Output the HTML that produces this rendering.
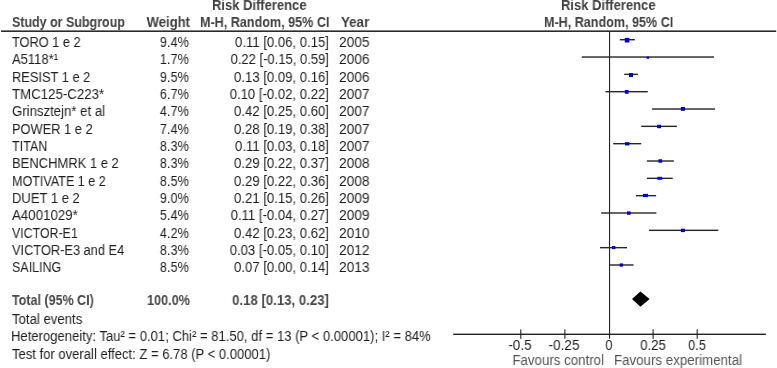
<!DOCTYPE html><html><head><meta charset="utf-8"><style>
html,body{margin:0;padding:0;background:#fff;}
body{width:777px;height:368px;position:relative;overflow:hidden;font-family:"Liberation Sans",sans-serif;}
.t{position:absolute;white-space:nowrap;line-height:20px;height:20px;will-change:transform;}
.r{font-size:14px;color:#1e1e1e;}
.b{font-size:14px;color:#404040;font-weight:bold;}
.f{font-size:14px;color:#555555;}
#tot,#t100,#tci{color:#484848;}
svg{position:absolute;left:0;top:0;}
</style></head><body>
<div id="rd1" class="t b" style="left:212.45px;top:-5.05px;width:400px;text-align:left;transform:scaleX(0.9273);transform-origin:0 0">Risk Difference</div>
<div id="rd2" class="t b" style="left:561.45px;top:-5.05px;width:400px;text-align:left;transform:scaleX(0.9273);transform-origin:0 0">Risk Difference</div>
<div id="ss" class="t b" style="left:12.26px;top:12.15px;width:400px;text-align:left;transform:scaleX(0.8904);transform-origin:0 0">Study or Subgroup</div>
<div id="wt" class="t b" style="left:-210.49px;top:12.15px;width:400px;text-align:right;transform:scaleX(0.9331);transform-origin:100% 0">Weight</div>
<div id="mh1" class="t b" style="left:199.60px;top:12.15px;width:400px;text-align:left;transform:scaleX(0.8993);transform-origin:0 0">M-H, Random, 95% CI</div>
<div id="yr" class="t b" style="left:340.70px;top:12.15px;width:400px;text-align:left;transform:scaleX(0.9540);transform-origin:0 0">Year</div>
<div id="mh2" class="t b" style="left:544.27px;top:12.15px;width:400px;text-align:left;transform:scaleX(0.8981);transform-origin:0 0">M-H, Random, 95% CI</div>
<div id="n0" class="t r" style="left:11.60px;top:31.95px;width:400px;text-align:left;transform:scaleX(0.9121);transform-origin:0 0">TORO 1 e 2</div>
<div id="w0" class="t r" style="left:-210.91px;top:31.95px;width:400px;text-align:right;transform:scaleX(0.9120);transform-origin:100% 0">9.4%</div>
<div id="c0" class="t r" style="left:-71.26px;top:31.95px;width:400px;text-align:right;transform:scaleX(0.9381);transform-origin:100% 0">0.11 [0.06, 0.15]</div>
<div id="y0" class="t r" style="left:339.39px;top:31.95px;width:400px;text-align:left;transform:scaleX(0.9829);transform-origin:0 0">2005</div>
<div id="n1" class="t r" style="left:11.60px;top:49.28px;width:400px;text-align:left;transform:scaleX(0.9274);transform-origin:0 0">A5118*¹</div>
<div id="w1" class="t r" style="left:-210.91px;top:49.28px;width:400px;text-align:right;transform:scaleX(0.9120);transform-origin:100% 0">1.7%</div>
<div id="c1" class="t r" style="left:-71.41px;top:49.28px;width:400px;text-align:right;transform:scaleX(0.9303);transform-origin:100% 0">0.22 [-0.15, 0.59]</div>
<div id="y1" class="t r" style="left:339.39px;top:49.28px;width:400px;text-align:left;transform:scaleX(0.9829);transform-origin:0 0">2006</div>
<div id="n2" class="t r" style="left:11.60px;top:66.61px;width:400px;text-align:left;transform:scaleX(0.9177);transform-origin:0 0">RESIST 1 e 2</div>
<div id="w2" class="t r" style="left:-210.91px;top:66.61px;width:400px;text-align:right;transform:scaleX(0.9120);transform-origin:100% 0">9.5%</div>
<div id="c2" class="t r" style="left:-71.26px;top:66.61px;width:400px;text-align:right;transform:scaleX(0.9381);transform-origin:100% 0">0.13 [0.09, 0.16]</div>
<div id="y2" class="t r" style="left:339.39px;top:66.61px;width:400px;text-align:left;transform:scaleX(0.9829);transform-origin:0 0">2006</div>
<div id="n3" class="t r" style="left:11.60px;top:83.94px;width:400px;text-align:left;transform:scaleX(0.9477);transform-origin:0 0">TMC125-C223*</div>
<div id="w3" class="t r" style="left:-210.91px;top:83.94px;width:400px;text-align:right;transform:scaleX(0.9120);transform-origin:100% 0">6.7%</div>
<div id="c3" class="t r" style="left:-71.26px;top:83.94px;width:400px;text-align:right;transform:scaleX(0.9381);transform-origin:100% 0">0.10 [-0.02, 0.22]</div>
<div id="y3" class="t r" style="left:339.39px;top:83.94px;width:400px;text-align:left;transform:scaleX(0.9829);transform-origin:0 0">2007</div>
<div id="n4" class="t r" style="left:11.60px;top:101.27px;width:400px;text-align:left;transform:scaleX(0.9417);transform-origin:0 0">Grinsztejn* et al</div>
<div id="w4" class="t r" style="left:-210.91px;top:101.27px;width:400px;text-align:right;transform:scaleX(0.9120);transform-origin:100% 0">4.7%</div>
<div id="c4" class="t r" style="left:-71.26px;top:101.27px;width:400px;text-align:right;transform:scaleX(0.9381);transform-origin:100% 0">0.42 [0.25, 0.60]</div>
<div id="y4" class="t r" style="left:339.39px;top:101.27px;width:400px;text-align:left;transform:scaleX(0.9829);transform-origin:0 0">2007</div>
<div id="n5" class="t r" style="left:11.60px;top:118.60px;width:400px;text-align:left;transform:scaleX(0.9165);transform-origin:0 0">POWER 1 e 2</div>
<div id="w5" class="t r" style="left:-210.91px;top:118.60px;width:400px;text-align:right;transform:scaleX(0.9120);transform-origin:100% 0">7.4%</div>
<div id="c5" class="t r" style="left:-71.26px;top:118.60px;width:400px;text-align:right;transform:scaleX(0.9381);transform-origin:100% 0">0.28 [0.19, 0.38]</div>
<div id="y5" class="t r" style="left:339.39px;top:118.60px;width:400px;text-align:left;transform:scaleX(0.9829);transform-origin:0 0">2007</div>
<div id="n6" class="t r" style="left:11.60px;top:135.93px;width:400px;text-align:left;transform:scaleX(0.8979);transform-origin:0 0">TITAN</div>
<div id="w6" class="t r" style="left:-210.91px;top:135.93px;width:400px;text-align:right;transform:scaleX(0.9120);transform-origin:100% 0">8.3%</div>
<div id="c6" class="t r" style="left:-71.26px;top:135.93px;width:400px;text-align:right;transform:scaleX(0.9381);transform-origin:100% 0">0.11 [0.03, 0.18]</div>
<div id="y6" class="t r" style="left:339.39px;top:135.93px;width:400px;text-align:left;transform:scaleX(0.9829);transform-origin:0 0">2007</div>
<div id="n7" class="t r" style="left:11.60px;top:153.26px;width:400px;text-align:left;transform:scaleX(0.9270);transform-origin:0 0">BENCHMRK 1 e 2</div>
<div id="w7" class="t r" style="left:-210.91px;top:153.26px;width:400px;text-align:right;transform:scaleX(0.9120);transform-origin:100% 0">8.3%</div>
<div id="c7" class="t r" style="left:-71.26px;top:153.26px;width:400px;text-align:right;transform:scaleX(0.9381);transform-origin:100% 0">0.29 [0.22, 0.37]</div>
<div id="y7" class="t r" style="left:339.39px;top:153.26px;width:400px;text-align:left;transform:scaleX(0.9829);transform-origin:0 0">2008</div>
<div id="n8" class="t r" style="left:11.60px;top:170.59px;width:400px;text-align:left;transform:scaleX(0.8968);transform-origin:0 0">MOTIVATE 1 e 2</div>
<div id="w8" class="t r" style="left:-210.91px;top:170.59px;width:400px;text-align:right;transform:scaleX(0.9120);transform-origin:100% 0">8.5%</div>
<div id="c8" class="t r" style="left:-71.26px;top:170.59px;width:400px;text-align:right;transform:scaleX(0.9381);transform-origin:100% 0">0.29 [0.22, 0.36]</div>
<div id="y8" class="t r" style="left:339.39px;top:170.59px;width:400px;text-align:left;transform:scaleX(0.9829);transform-origin:0 0">2008</div>
<div id="n9" class="t r" style="left:11.60px;top:187.92px;width:400px;text-align:left;transform:scaleX(0.9300);transform-origin:0 0">DUET 1 e 2</div>
<div id="w9" class="t r" style="left:-210.91px;top:187.92px;width:400px;text-align:right;transform:scaleX(0.9120);transform-origin:100% 0">9.0%</div>
<div id="c9" class="t r" style="left:-71.26px;top:187.92px;width:400px;text-align:right;transform:scaleX(0.9381);transform-origin:100% 0">0.21 [0.15, 0.26]</div>
<div id="y9" class="t r" style="left:339.39px;top:187.92px;width:400px;text-align:left;transform:scaleX(0.9829);transform-origin:0 0">2009</div>
<div id="n10" class="t r" style="left:11.60px;top:205.25px;width:400px;text-align:left;transform:scaleX(0.9500);transform-origin:0 0">A4001029*</div>
<div id="w10" class="t r" style="left:-210.91px;top:205.25px;width:400px;text-align:right;transform:scaleX(0.9120);transform-origin:100% 0">5.4%</div>
<div id="c10" class="t r" style="left:-71.26px;top:205.25px;width:400px;text-align:right;transform:scaleX(0.9381);transform-origin:100% 0">0.11 [-0.04, 0.27]</div>
<div id="y10" class="t r" style="left:339.39px;top:205.25px;width:400px;text-align:left;transform:scaleX(0.9829);transform-origin:0 0">2009</div>
<div id="n11" class="t r" style="left:11.60px;top:222.58px;width:400px;text-align:left;transform:scaleX(0.8828);transform-origin:0 0">VICTOR-E1</div>
<div id="w11" class="t r" style="left:-210.91px;top:222.58px;width:400px;text-align:right;transform:scaleX(0.9120);transform-origin:100% 0">4.2%</div>
<div id="c11" class="t r" style="left:-71.26px;top:222.58px;width:400px;text-align:right;transform:scaleX(0.9381);transform-origin:100% 0">0.42 [0.23, 0.62]</div>
<div id="y11" class="t r" style="left:339.39px;top:222.58px;width:400px;text-align:left;transform:scaleX(0.9829);transform-origin:0 0">2010</div>
<div id="n12" class="t r" style="left:11.60px;top:239.91px;width:400px;text-align:left;transform:scaleX(0.9141);transform-origin:0 0">VICTOR-E3 and E4</div>
<div id="w12" class="t r" style="left:-210.91px;top:239.91px;width:400px;text-align:right;transform:scaleX(0.9120);transform-origin:100% 0">8.3%</div>
<div id="c12" class="t r" style="left:-71.26px;top:239.91px;width:400px;text-align:right;transform:scaleX(0.9381);transform-origin:100% 0">0.03 [-0.05, 0.10]</div>
<div id="y12" class="t r" style="left:339.39px;top:239.91px;width:400px;text-align:left;transform:scaleX(0.9829);transform-origin:0 0">2012</div>
<div id="n13" class="t r" style="left:11.60px;top:257.24px;width:400px;text-align:left;transform:scaleX(0.8931);transform-origin:0 0">SAILING</div>
<div id="w13" class="t r" style="left:-210.91px;top:257.24px;width:400px;text-align:right;transform:scaleX(0.9120);transform-origin:100% 0">8.5%</div>
<div id="c13" class="t r" style="left:-71.26px;top:257.24px;width:400px;text-align:right;transform:scaleX(0.9381);transform-origin:100% 0">0.07 [0.00, 0.14]</div>
<div id="y13" class="t r" style="left:339.39px;top:257.24px;width:400px;text-align:left;transform:scaleX(0.9829);transform-origin:0 0">2013</div>
<div id="tot" class="t b" style="left:11.95px;top:289.75px;width:400px;text-align:left;transform:scaleX(0.8940);transform-origin:0 0">Total (95% CI)</div>
<div id="t100" class="t b" style="left:-210.30px;top:289.75px;width:400px;text-align:right;transform:scaleX(0.9051);transform-origin:100% 0">100.0%</div>
<div id="tci" class="t b" style="left:-71.50px;top:289.75px;width:400px;text-align:right;transform:scaleX(0.9435);transform-origin:100% 0">0.18 [0.13, 0.23]</div>
<div id="ev" class="t r" style="left:11.60px;top:309.05px;width:400px;text-align:left;transform:scaleX(0.9404);transform-origin:0 0">Total events</div>
<div id="het" class="t r" style="left:10.72px;top:326.15px;width:400px;text-align:left;transform:scaleX(0.9333);transform-origin:0 0">Heterogeneity: Tau² = 0.01; Chi² = 81.50, df = 13 (P &lt; 0.00001); I² = 84%</div>
<div id="test" class="t r" style="left:11.69px;top:343.75px;width:400px;text-align:left;transform:scaleX(0.9317);transform-origin:0 0">Test for overall effect: Z = 6.78 (P &lt; 0.00001)</div>
<div id="ax0" class="t r" style="left:320.24px;top:334.95px;width:400px;text-align:center;transform:scaleX(0.9642);transform-origin:50% 0">-0.5</div>
<div id="ax1" class="t r" style="left:363.56px;top:334.95px;width:400px;text-align:center;transform:scaleX(0.9705);transform-origin:50% 0">-0.25</div>
<div id="ax2" class="t r" style="left:409.27px;top:334.95px;width:400px;text-align:center;transform:scaleX(0.9017);transform-origin:50% 0">0</div>
<div id="ax3" class="t r" style="left:452.83px;top:334.95px;width:400px;text-align:center;transform:scaleX(0.9504);transform-origin:50% 0">0.25</div>
<div id="ax4" class="t r" style="left:496.71px;top:334.95px;width:400px;text-align:center;transform:scaleX(0.9117);transform-origin:50% 0">0.5</div>
<div id="fc" class="t f" style="left:203.64px;top:349.95px;width:400px;text-align:right;transform:scaleX(0.9492);transform-origin:100% 0">Favours control</div>
<div id="fe" class="t f" style="left:613.74px;top:349.95px;width:400px;text-align:left;transform:scaleX(0.9511);transform-origin:0 0">Favours experimental</div>
<svg width="777" height="368" viewBox="0 0 777 368">
<rect x="1" y="30.40" width="775.2" height="1.60" fill="#2b2b2b"/>
<rect x="609.00" y="32.00" width="1.10" height="306.80" fill="#222222"/>
<rect x="619.80" y="39.00" width="15.00" height="1.40" fill="#262626"/>
<rect x="624.80" y="37.90" width="4.60" height="4.60" fill="#0000d0"/>
<rect x="581.80" y="56.33" width="132.20" height="1.40" fill="#262626"/>
<rect x="646.55" y="56.60" width="2.50" height="2.20" fill="#0000d0"/>
<rect x="624.20" y="73.66" width="13.70" height="1.40" fill="#262626"/>
<rect x="629.00" y="73.00" width="4.00" height="4.00" fill="#0000d0"/>
<rect x="605.50" y="90.99" width="42.30" height="1.40" fill="#262626"/>
<rect x="624.85" y="90.05" width="3.70" height="3.70" fill="#0000d0"/>
<rect x="652.10" y="108.32" width="62.90" height="1.40" fill="#262626"/>
<rect x="680.90" y="107.00" width="4.00" height="3.80" fill="#0000d0"/>
<rect x="641.30" y="125.65" width="35.60" height="1.40" fill="#262626"/>
<rect x="657.20" y="124.80" width="3.80" height="3.40" fill="#0000d0"/>
<rect x="613.20" y="142.98" width="28.00" height="1.40" fill="#262626"/>
<rect x="625.00" y="142.15" width="4.40" height="3.30" fill="#0000d0"/>
<rect x="646.90" y="160.31" width="26.90" height="1.40" fill="#262626"/>
<rect x="658.50" y="159.25" width="3.60" height="3.50" fill="#0000d0"/>
<rect x="646.90" y="177.64" width="25.80" height="1.40" fill="#262626"/>
<rect x="657.40" y="176.80" width="4.60" height="3.00" fill="#0000d0"/>
<rect x="636.00" y="194.97" width="20.10" height="1.40" fill="#262626"/>
<rect x="643.00" y="193.85" width="5.00" height="3.30" fill="#0000d0"/>
<rect x="601.20" y="212.30" width="55.20" height="1.40" fill="#262626"/>
<rect x="627.00" y="211.40" width="3.60" height="3.40" fill="#0000d0"/>
<rect x="648.90" y="229.63" width="69.40" height="1.40" fill="#262626"/>
<rect x="680.90" y="228.70" width="4.00" height="3.40" fill="#0000d0"/>
<rect x="600.00" y="246.96" width="27.00" height="1.40" fill="#262626"/>
<rect x="612.00" y="246.05" width="3.40" height="3.10" fill="#0000d0"/>
<rect x="608.90" y="264.29" width="24.70" height="1.40" fill="#262626"/>
<rect x="619.70" y="263.40" width="3.40" height="3.20" fill="#0000d0"/>
<polygon points="632.00,299.10 640.40,291.50 649.60,299.10 640.40,306.80" fill="#000"/>
<rect x="453.20" y="333.60" width="312.70" height="1.40" fill="#222222"/>
<rect x="520.25" y="329.40" width="1.10" height="9.40" fill="#222222"/>
<rect x="564.35" y="329.40" width="1.10" height="9.40" fill="#222222"/>
<rect x="652.55" y="329.40" width="1.10" height="9.40" fill="#222222"/>
<rect x="696.65" y="329.40" width="1.10" height="9.40" fill="#222222"/>
</svg>
</body></html>
